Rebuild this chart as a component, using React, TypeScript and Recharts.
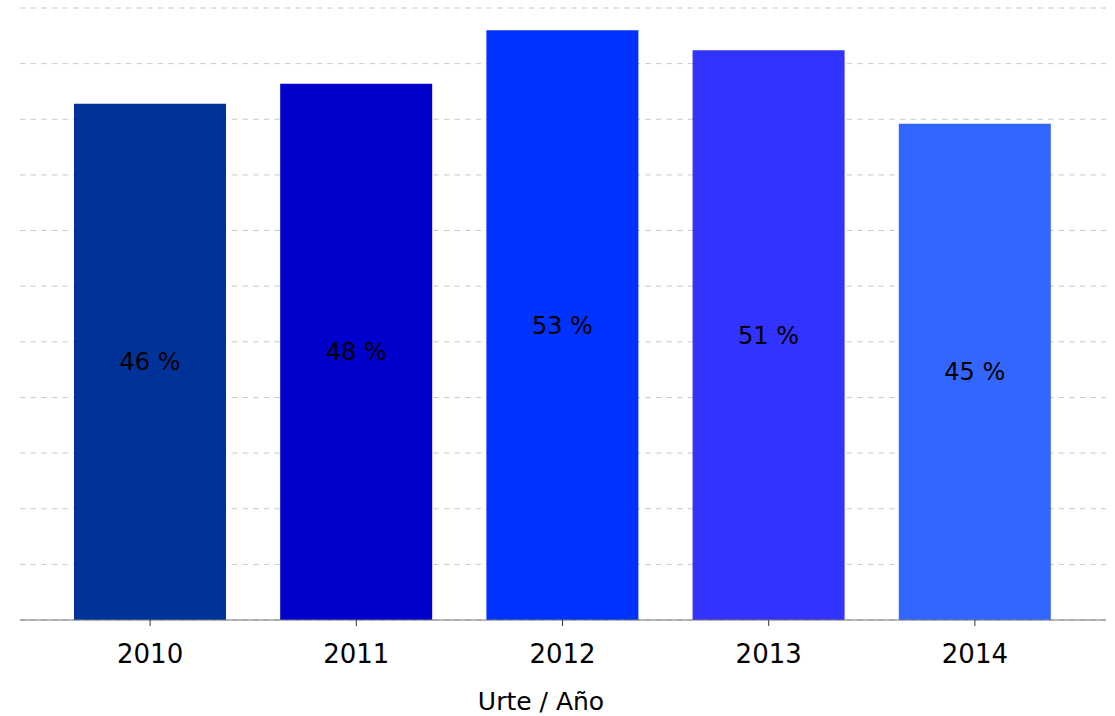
import React from "react";
import { BarChart, Bar, XAxis, YAxis, CartesianGrid, Cell, LabelList } from "recharts";

const years = ["2010", "2011", "2012", "2013", "2014"];
const shares = [46.4, 48.2, 53.0, 51.2, 44.6];
const labels = ["46 %", "48 %", "53 %", "51 %", "45 %"];
const colors = ["#003399", "#0000CC", "#0033FF", "#3333FF", "#3366FF"];
const yTicks = [0, 5, 10, 15, 20, 25, 30, 35, 40, 45, 50, 55];
const xTitle = "Urte / Año";

const data = years.map((y, i) => ({ year: y, value: shares[i], label: labels[i] }));

const FONT = "'DejaVu Sans', Verdana, sans-serif";

const Tick = (props: any) => {
  const { x, y, payload } = props;
  return (
    <g>
      <line x1={x} x2={x} y1={y - 8} y2={y - 2} stroke="#333" strokeWidth={1} />
      <text x={x} y={y + 35} textAnchor="middle" fontSize={26} fontFamily={FONT} fill="#000">
        {payload.value}
      </text>
    </g>
  );
};

const AxisTitle = (props: any) => {
  return (
    <text x={541} y={710} textAnchor="middle" fontSize={25} fontFamily={FONT} fill="#000">
      {xTitle}
    </text>
  );
};

export default function App() {
  return (
    <div style={{ position: "absolute", left: 0, top: 0, background: "#fff" }}>
      <BarChart
        width={1115}
        height={716}
        data={data}
        margin={{ top: 8, right: 9, bottom: 0, left: 20 }}
        barCategoryGap={27}
      >
        <CartesianGrid vertical={false} stroke="#c8c8c8" strokeDasharray="5.3 5.3" />
        <YAxis hide domain={[0, 55]} ticks={yTicks} type="number" />
        <XAxis
          dataKey="year"
          height={96}
          padding={{ left: 27, right: 28 }}
          axisLine={{ stroke: "#777", strokeWidth: 1 }}
          tickLine={false}
          tick={<Tick />}
          interval={0}
          label={<AxisTitle />}
        />
        <Bar dataKey="value" isAnimationActive={false}>
          {data.map((d, i) => (
            <Cell key={d.year} fill={colors[i]} />
          ))}
          <LabelList
            dataKey="label"
            position="center"
            fontSize={24}
            fontFamily={FONT}
            fill="#000"
          />
        </Bar>
      </BarChart>
    </div>
  );
}
